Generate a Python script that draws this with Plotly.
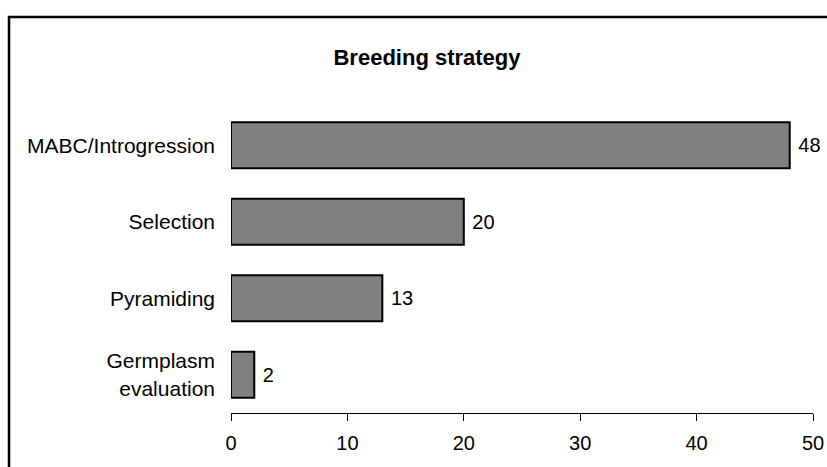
import plotly.graph_objects as go

# Breeding strategy counts (listed bottom to top)
categories = ["Germplasm<br>evaluation", "Pyramiding", "Selection", "MABC/Introgression"]
counts = [2, 13, 20, 48]
x_ticks = [0, 10, 20, 30, 40, 50]

W, H = 827, 467
L, R, T, B = 231, 14, 107, 54
pw, ph = W - L - R, H - T - B

def px_to_paper_x(px):
    return (px - L) / pw

def px_to_paper_y(py):
    return (H - B - py) / ph

font_family = "Liberation Sans, Arial, sans-serif"

fig = go.Figure(
    go.Bar(
        y=categories,
        x=counts,
        orientation="h",
        width=0.6,
        marker=dict(color="#808080", line=dict(color="black", width=2)),
        texttemplate=" %{x}",
        textposition="outside",
        constraintext="none",
        cliponaxis=False,
        textfont=dict(family=font_family, size=20, color="black"),
    )
)

fig.update_layout(
    width=W,
    height=H,
    margin=dict(l=L, r=R, t=T, b=B, autoexpand=False),
    paper_bgcolor="white",
    plot_bgcolor="white",
    showlegend=False,
    font=dict(family=font_family, size=20, color="black"),
    title=dict(
        text="<b>Breeding strategy</b>",
        x=px_to_paper_x(427),
        xref="paper",
        xanchor="center",
        y=1 - 57 / H,
        yanchor="middle",
        font=dict(family=font_family, size=22, color="black"),
    ),
    xaxis=dict(
        range=[0, 50],
        tickvals=x_ticks,
        showgrid=False,
        zeroline=False,
        showline=True,
        linecolor="black",
        linewidth=1,
        ticks="outside",
        ticklen=7,
        tickcolor="black",
        ticklabelstandoff=5,
        automargin=False,
        tickfont=dict(family=font_family, size=20, color="black"),
    ),
    yaxis=dict(
        range=[-0.5, 3.5],
        showgrid=False,
        zeroline=False,
        showline=False,
        ticks="",
        ticklabelstandoff=15,
        automargin=False,
        tickfont=dict(family=font_family, size=21, color="black"),
    ),
    shapes=[
        dict(
            type="rect",
            xref="paper",
            yref="paper",
            x0=px_to_paper_x(9),
            x1=px_to_paper_x(W + 20),
            y0=px_to_paper_y(H + 20),
            y1=px_to_paper_y(17),
            line=dict(color="black", width=2.5),
            fillcolor="rgba(0,0,0,0)",
            layer="above",
        )
    ],
)

fig.write_html("out.html")
